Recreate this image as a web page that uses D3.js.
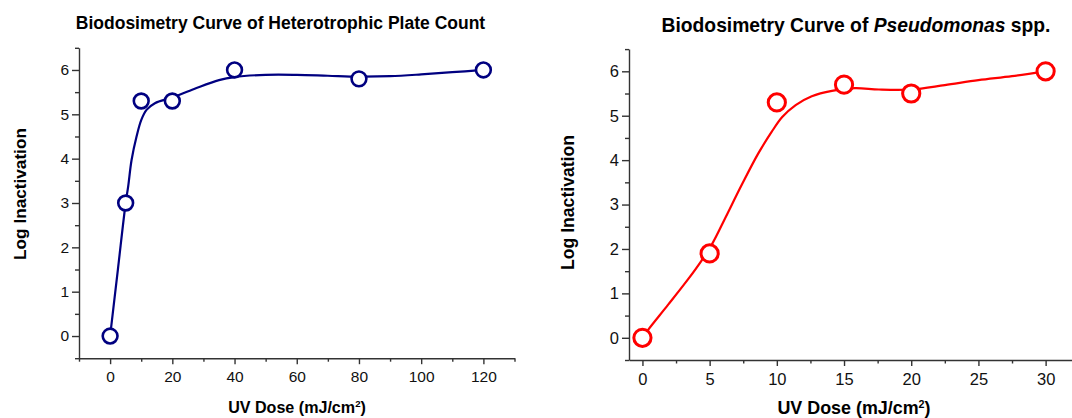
<!DOCTYPE html>
<html>
<head>
<meta charset="utf-8">
<script src="https://cdn.jsdelivr.net/npm/d3@7"></script>
<style>
  body { margin: 0; background: #fff; }
  text { font-family: "Liberation Sans", Arial, sans-serif; }
</style>
</head>
<body>
<div id="chart"></div>
<script>
// measured points
var hpcDose = [0, 5, 10, 20, 40, 80, 120];
var hpcLog = [0, 3, 5.3, 5.3, 6, 5.8, 6];
// fitted curve
var hpcFitDose = [0, 2.5, 5, 5.8, 6.9, 8.5, 10, 11.7, 14.4, 20, 27, 35, 40, 50, 60, 70, 80, 90, 100, 110, 120];
var hpcFitLog = [0, 1.5, 3.0, 3.37, 3.97, 4.5, 4.87, 5.1, 5.25, 5.38, 5.57, 5.77, 5.84, 5.89, 5.89, 5.87, 5.85, 5.86, 5.9, 5.95, 6.0];

var psDose = [0, 5, 10, 15, 20, 30];
var psLog = [0, 1.9, 5.3, 5.7, 5.5, 6];
var psFitDose = [0, 0.45, 1.9, 3.4, 4.4, 5.2, 6.2, 7.4, 8.6, 9.6, 10.4, 11.4, 12.6, 14.1, 15.8, 17.6, 20, 22.5, 25, 27.5, 30];
var psFitLog = [0, 0.19, 0.74, 1.32, 1.74, 2.12, 2.72, 3.45, 4.14, 4.63, 4.97, 5.24, 5.44, 5.56, 5.62, 5.59, 5.59, 5.69, 5.8, 5.89, 6.0];

var hpcTicksX = [0, 20, 40, 60, 80, 100, 120];
var hpcMinorX = [-10, 10, 30, 50, 70, 90, 110, 130];
var psTicksX = [0, 5, 10, 15, 20, 25, 30];
var psMinorX = [2.5, 7.5, 12.5, 17.5, 22.5, 27.5];
var yTicks = [0, 1, 2, 3, 4, 5, 6];
var yMinor = [-0.5, 0.5, 1.5, 2.5, 3.5, 4.5, 5.5, 6.5];

var width = 1072, height = 418;

var svg = d3.select("#chart").append("svg")
  .attr("width", width)
  .attr("height", height);

function drawPanel(p) {
  var x = d3.scaleLinear().domain(p.xDomain).range(p.xRange);
  var y = d3.scaleLinear().domain([-0.5, 6.5]).range(p.yRange);
  var g = svg.append("g");
  var x0 = p.xRange[0], yb = p.yRange[0];

  // minor ticks
  g.append("g")
    .attr("transform", "translate(0," + yb + ")")
    .call(d3.axisBottom(x).tickValues(p.minorX).tickSize(3.5).tickFormat(""))
    .call(function(a) { a.select(".domain").remove(); });
  g.append("g")
    .attr("transform", "translate(" + x0 + ",0)")
    .call(d3.axisLeft(y).tickValues(yMinor).tickSize(4).tickFormat(""))
    .call(function(a) { a.select(".domain").remove(); });

  var xa = g.append("g")
    .attr("transform", "translate(0," + yb + ")")
    .call(d3.axisBottom(x).tickValues(p.ticksX).tickFormat(d3.format("d"))
      .tickSize(6).tickSizeOuter(0).tickPadding(p.xPad));
  var ya = g.append("g")
    .attr("transform", "translate(" + x0 + ",0)")
    .call(d3.axisLeft(y).tickValues(yTicks).tickFormat(d3.format("d"))
      .tickSize(7).tickSizeOuter(0).tickPadding(3));

  g.selectAll(".domain, .tick line").attr("stroke", "#333").attr("stroke-width", 1.4);
  xa.selectAll("text").attr("font-size", p.tickFont).attr("fill", "#111");
  ya.selectAll("text").attr("font-size", p.tickFont).attr("fill", "#111");

  var line = d3.line()
    .x(function(d, i) { return x(p.fitX[i]); })
    .y(function(d) { return y(d); })
    .curve(d3.curveCatmullRom.alpha(0.5));

  g.append("path")
    .datum(p.fitY)
    .attr("d", line)
    .attr("fill", "none")
    .attr("stroke", p.color)
    .attr("stroke-width", 2.2);

  g.selectAll("circle")
    .data(p.dataY)
    .enter().append("circle")
    .attr("cx", function(d, i) { return x(p.dataX[i]); })
    .attr("cy", function(d) { return y(d); })
    .attr("r", p.r)
    .attr("fill", "#fff")
    .attr("stroke", p.color)
    .attr("stroke-width", p.sw);

  // titles
  var t = svg.append("text")
    .attr("x", p.title.x).attr("y", p.title.y)
    .attr("text-anchor", "middle")
    .attr("font-size", p.title.size)
    .attr("font-weight", "bold");
  p.title.parts.forEach(function(s) {
    t.append("tspan").text(s[0]).attr("font-style", s[1] ? "italic" : null);
  });

  var xl = svg.append("text")
    .attr("x", p.xLabel.x).attr("y", p.xLabel.y)
    .attr("text-anchor", "middle")
    .attr("font-size", p.xLabel.size)
    .attr("font-weight", "bold");
  xl.append("tspan").text("UV Dose (mJ/cm");
  xl.append("tspan").text("2").attr("font-size", "0.6em").attr("dy", "-0.6em");
  xl.append("tspan").text(")").attr("dy", "0.36em");

  svg.append("text")
    .attr("transform", "translate(" + p.yLabel.x + "," + p.yLabel.y + ")rotate(-90)")
    .attr("text-anchor", "middle")
    .attr("font-size", p.yLabel.size)
    .attr("font-weight", "bold")
    .text("Log Inactivation");
}

drawPanel({
  xDomain: [-10, 130], xRange: [79, 514.5], yRange: [358.2, 47.8],
  ticksX: hpcTicksX, minorX: hpcMinorX, xPad: 6.5, tickFont: 15.5,
  dataX: hpcDose, dataY: hpcLog, fitX: hpcFitDose, fitY: hpcFitLog,
  color: "#000080", r: 7.4, sw: 2.6,
  title: { x: 280.5, y: 29.3, size: 17.5, parts: [["Biodosimetry Curve of Heterotrophic Plate Count", false]] },
  xLabel: { x: 297, y: 413, size: 16.1 },
  yLabel: { x: 25.5, y: 194, size: 17.2 }
});

drawPanel({
  xDomain: [-1, 32], xRange: [629, 1072.5], yRange: [360, 49.1],
  ticksX: psTicksX, minorX: psMinorX, xPad: 7, tickFont: 16.5,
  dataX: psDose, dataY: psLog, fitX: psFitDose, fitY: psFitLog,
  color: "#ff0000", r: 8.6, sw: 3,
  title: { x: 856, y: 32.3, size: 19.3, parts: [["Biodosimetry Curve of ", false], ["Pseudomonas", true], [" spp.", false]] },
  xLabel: { x: 854, y: 414, size: 17.9 },
  yLabel: { x: 573.6, y: 202.5, size: 17.6 }
});
</script>
</body>
</html>
